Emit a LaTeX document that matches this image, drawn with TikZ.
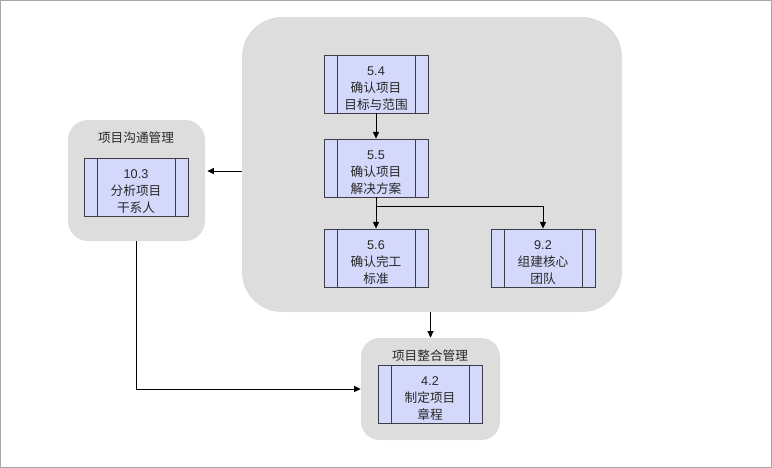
\documentclass[tikz,border=0pt]{standalone}
\usepackage{fontspec}
\setmainfont{Liberation Sans}
\newfontfamily\cjk{Noto Sans CJK SC}
\usetikzlibrary{arrows.meta}

\definecolor{boxfill}{RGB}{212,216,250}
\definecolor{grpfill}{RGB}{222,221,221}
\definecolor{boxline}{RGB}{60,60,70}
\definecolor{txt}{RGB}{40,40,40}

\newcommand\topstrut{\rule{0pt}{13pt}}

\tikzset{
  procbox/.style={draw=boxline, fill=boxfill, line width=0.6pt, minimum width=78pt, minimum height=43.5pt,
    inner sep=0pt, align=center, text=txt, font=\fontsize{9.5}{12.75}\selectfont,
    path picture={
      \draw[boxline, line width=0.6pt] ([xshift=9.75pt]path picture bounding box.north west) -- ([xshift=9.75pt]path picture bounding box.south west);
      \draw[boxline, line width=0.6pt] ([xshift=-9.75pt]path picture bounding box.north east) -- ([xshift=-9.75pt]path picture bounding box.south east);
    }},
  group/.style={fill=grpfill, inner sep=0pt},
  grptitle/.style={text=txt, font=\cjk\fontsize{9.5}{12}\selectfont},
  arr/.style={-{Triangle[length=5pt,width=4.5pt]}, line width=0.7pt, black},
}

\begin{document}
\begin{tikzpicture}[x=0.75pt, y=-0.75pt]
    \useasboundingbox (0,0) rectangle (772,468);
    \draw[gray!70, line width=0.6pt] (0.5,0.5) rectangle (771.5,467.5);

    % groups
    \node[group, rounded corners=30pt, minimum width=285pt, minimum height=221.25pt] (grp) at (432,164.5) {};
    \node[group, rounded corners=15pt, minimum width=102.75pt, minimum height=90.75pt] (comm) at (136.5,180.5) {};
    \node[group, rounded corners=14pt, minimum width=104.25pt, minimum height=76.5pt] (integ) at (430.5,389) {};
    \node[grptitle] (commtitle) at (136,138) {项目沟通管理};
    \node[grptitle] (integtitle) at (430,356) {项目整合管理};

    % processes
    \node[procbox] (p54) at (376,84) {\topstrut 5.4\\\cjk 确认项目\\\cjk 目标与范围};
    \node[procbox] (p55) at (376,168) {\topstrut 5.5\\\cjk 确认项目\\\cjk 解决方案};
    \node[procbox] (p56) at (376,258) {\topstrut 5.6\\\cjk 确认完工\\\cjk 标准};
    \node[procbox] (p92) at (543,258) {\topstrut 9.2\\\cjk 组建核心\\\cjk 团队};
    \node[procbox] (p103) at (136,187) {\topstrut 10.3\\\cjk 分析项目\\\cjk 干系人};
    \node[procbox] (p42) at (430,394) {\topstrut 4.2\\\cjk 制定项目\\\cjk 章程};

    % connectors
    \draw[arr] (p54) -- (p55);
    \draw[arr] (p55) -- (p56);
    \coordinate (split) at ([yshift=-6.75pt]p55.south);
    \draw[arr] (split) -| (p92.north);
    \draw[arr] ([yshift=-4.9pt]grp.west) -- ([xshift=1.5pt,yshift=-4.9pt]grp.west -| comm.east);
    \draw[arr] (integ.north |- grp.south) -- (integ.north);
    \draw[arr] (comm.south) |- (integ.west);
\end{tikzpicture}
\end{document}
